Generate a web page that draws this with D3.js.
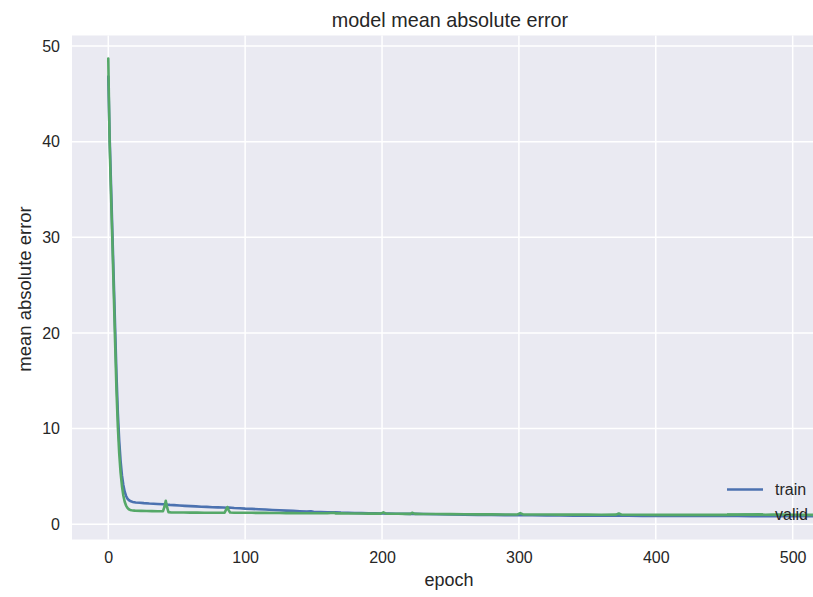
<!DOCTYPE html>
<html><head><meta charset="utf-8">
<script src="https://cdn.jsdelivr.net/npm/d3@7/dist/d3.min.js"></script>
<style>
html,body{margin:0;padding:0;background:#fff;}
text{font-family:"Liberation Sans",Arial,sans-serif;fill:#262626;}
</style></head><body>
<script>
const chartTitle = "model mean absolute error";
const xLabel = "epoch";
const yLabel = "mean absolute error";
const seriesNames = ["train", "valid"];
const xTicks = [0, 100, 200, 300, 400, 500];
const yTicks = [0, 10, 20, 30, 40, 50];

const trainEpochs = [0,1,2,3,4,5,6,7,8,9,10,11,12,13,14,15,16,17,18,19,20,23,26,30,33,36,40,42,43,45,48,52,56,60,64,68,72,76,80,84,87,88,92,96,100,105,110,115,120,125,130,135,140,145,148,150,155,160,166,170,175,180,185,190,195,200,205,210,215,220,225,230,240,250,260,270,280,290,300,310,320,330,340,350,360,370,380,390,400,410,420,430,440,450,460,470,480,490,500,510,520,530];
const trainValues = [46.8,40.5,35.5,30.5,25.5,20.5,15.6,11.6,8.7,6.6,5.1,4.1,3.4,2.95,2.68,2.52,2.42,2.37,2.33,2.3,2.27,2.24,2.2,2.16,2.14,2.12,2.08,2.1,2.05,2.02,1.99,1.95,1.92,1.89,1.86,1.83,1.81,1.78,1.76,1.74,1.72,1.74,1.69,1.67,1.63,1.6,1.56,1.53,1.49,1.46,1.42,1.39,1.36,1.33,1.36,1.3,1.28,1.25,1.24,1.21,1.19,1.17,1.16,1.14,1.13,1.12,1.11,1.1,1.09,1.08,1.08,1.06,1.04,1.02,1.0,0.98,0.97,0.95,0.94,0.93,0.92,0.91,0.9,0.9,0.89,0.88,0.88,0.87,0.87,0.86,0.86,0.86,0.85,0.85,0.85,0.84,0.84,0.84,0.83,0.83,0.83,0.83];

const validEpochs = [0,1,2,3,4,5,6,7,8,9,10,11,12,13,14,15,16,17,18,19,20,24,28,32,36,40,41,42,43,44,46,50,55,60,65,70,75,80,85,86,87,88,89,92,96,100,105,110,115,120,125,130,135,140,145,150,155,160,165,166,170,175,180,185,190,195,199,201,203,207,212,217,221,222,224,230,240,250,260,270,280,290,299,301,303,310,320,330,340,350,360,371,373,375,380,390,400,410,420,430,440,450,460,465,470,475,480,485,490,495,500,505,510,520,530];
const validValues = [48.7,39.8,34.5,29.5,24.3,19.0,14.0,10.2,7.4,5.4,4.0,3.0,2.35,1.95,1.7,1.56,1.49,1.45,1.43,1.42,1.41,1.39,1.38,1.37,1.36,1.36,1.8,2.45,1.75,1.26,1.23,1.22,1.22,1.21,1.21,1.2,1.2,1.2,1.21,1.5,1.8,1.45,1.22,1.2,1.2,1.19,1.19,1.18,1.18,1.17,1.17,1.16,1.16,1.15,1.15,1.15,1.14,1.14,1.2,1.13,1.13,1.12,1.12,1.12,1.11,1.11,1.11,1.24,1.1,1.1,1.09,1.08,1.08,1.2,1.08,1.07,1.06,1.05,1.04,1.03,1.03,1.02,1.02,1.16,1.02,1.01,1.01,1.0,1.0,1.0,0.99,1.0,1.12,0.99,0.99,0.99,0.98,0.98,0.98,0.98,0.97,0.97,0.99,1.02,1.0,1.03,0.99,1.02,1.0,1.02,0.99,0.98,0.97,0.97,0.96];

const W = 813, H = 597;
const pLeft = 72, pTop = 35.5, pBottom = 539.5;
const svg = d3.select("body").append("svg").attr("width", W).attr("height", H);

const x = d3.scaleLinear().domain([-26.5, 556.5]).range([pLeft, pLeft + 798]);
const y = d3.scaleLinear().domain([-1.6, 51.1]).range([pBottom, pTop]);

svg.append("rect").attr("x", pLeft).attr("y", pTop).attr("width", W - pLeft).attr("height", pBottom - pTop).attr("fill", "#EAEAF2");

const grid = svg.append("g");
grid.selectAll("line.gx").data(xTicks).join("line")
  .attr("x1", d => x(d)).attr("x2", d => x(d)).attr("y1", pTop).attr("y2", pBottom)
  .attr("stroke", "#fff").attr("stroke-width", 1.5);
grid.selectAll("line.gy").data(yTicks).join("line")
  .attr("y1", d => y(d)).attr("y2", d => y(d)).attr("x1", pLeft).attr("x2", W)
  .attr("stroke", "#fff").attr("stroke-width", 1.5);

const xAxis = svg.append("g").attr("transform", `translate(0,${pBottom})`)
  .call(d3.axisBottom(x).tickValues(xTicks).tickSize(0).tickPadding(12));
const yAxis = svg.append("g").attr("transform", `translate(${pLeft},0)`)
  .call(d3.axisLeft(y).tickValues(yTicks).tickSize(0).tickPadding(12));
[xAxis, yAxis].forEach(a => {
  a.select(".domain").remove();
  a.selectAll("text").attr("font-size", 16).attr("fill", "#333")
    .attr("font-family", '"Liberation Sans",Arial,sans-serif');
});

svg.append("clipPath").attr("id", "c").append("rect")
  .attr("x", pLeft).attr("y", pTop).attr("width", W - pLeft).attr("height", pBottom - pTop);

const line = d3.line().x(d => x(d[0])).y(d => y(d[1]));
const colors = ["#4C72B0", "#55A868"];
const series = [
  d3.zip(trainEpochs, trainValues),
  d3.zip(validEpochs, validValues)
];
const plot = svg.append("g").attr("clip-path", "url(#c)");
series.forEach((s, i) => {
  plot.append("path").datum(s).attr("d", line).attr("fill", "none")
    .attr("stroke", colors[i]).attr("stroke-width", 2.6)
    .attr("stroke-linejoin", "round").attr("stroke-linecap", "round");
});

const lg = svg.append("g");
seriesNames.forEach((n, i) => {
  const yy = 489.5 + i * 25;
  lg.append("line").attr("x1", 727).attr("x2", 763).attr("y1", yy).attr("y2", yy)
    .attr("stroke", colors[i]).attr("stroke-width", 2.6);
  lg.append("text").attr("x", 775).attr("y", yy).attr("dy", "0.35em")
    .attr("font-size", 16).attr("fill", "#333").text(n);
});

svg.append("text").attr("x", 450).attr("y", 27).attr("text-anchor", "middle")
  .attr("font-size", 19.8).attr("fill", "#333").text(chartTitle);
svg.append("text").attr("x", 449).attr("y", 586).attr("text-anchor", "middle")
  .attr("font-size", 18).attr("fill", "#333").text(xLabel);
svg.append("text").attr("transform", "translate(31,289) rotate(-90)").attr("text-anchor", "middle")
  .attr("font-size", 18.5).attr("fill", "#333").text(yLabel);
</script>
</body></html>
